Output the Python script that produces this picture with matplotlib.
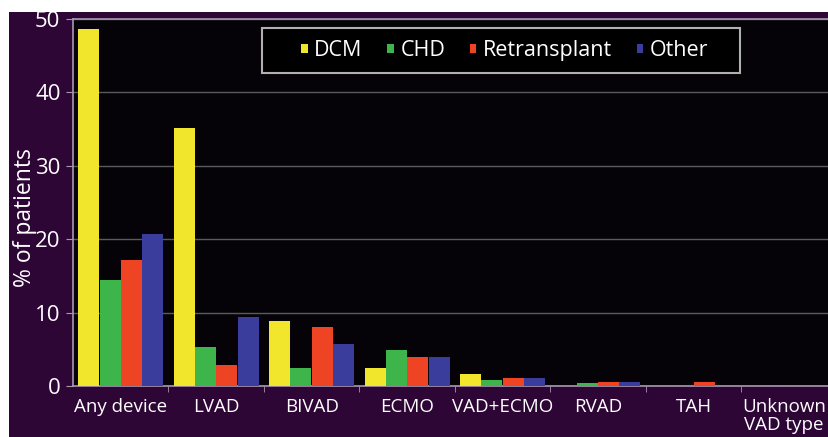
import matplotlib.pyplot as plt
import matplotlib.transforms as mtransforms
import numpy as np
from matplotlib.patches import Rectangle

plt.rcParams['font.family'] = ['Open Sans', 'DejaVu Sans']

# share of patients (%) on each type of mechanical support, by diagnosis
devices = ['Any device', 'LVAD', 'BIVAD', 'ECMO', 'VAD+ECMO', 'RVAD', 'TAH',
           'Unknown\nVAD type']
dcm = [48.7, 35.1, 8.85, 2.4, 1.6, 0.0, 0.0, 0.0]
chd = [14.5, 5.3, 2.45, 4.85, 0.75, 0.45, 0.0, 0.0]
retransplant = [17.1, 2.9, 8.0, 4.0, 1.15, 0.5, 0.5, 0.0]
other = [20.7, 9.35, 5.7, 4.0, 1.15, 0.5, 0.0, 0.0]

series = [('DCM', dcm, '#f2e62c'),
          ('CHD', chd, '#3db54a'),
          ('Retransplant', retransplant, '#ee4423'),
          ('Other', other, '#3a3d9c')]

panel = '#2e0636'
edge = '#a898b0'

fig = plt.figure(figsize=(8.29, 4.37), dpi=100, facecolor=panel)
# white margin along the top and left edges
fig.patches.append(Rectangle((0, 425 / 437), 1, 12 / 437, transform=fig.transFigure,
                             facecolor='white', edgecolor='none', zorder=-1))
fig.patches.append(Rectangle((0, 0), 9 / 829, 1, transform=fig.transFigure,
                             facecolor='white', edgecolor='none', zorder=-1))

ax = fig.add_axes([73 / 829, 51 / 437, 756 / 829, 367 / 437])
ax.set_facecolor('#050308')

x = np.arange(len(devices))
offsets = [-0.335, -0.112, 0.112, 0.335]
for (name, vals, col), off in zip(series, offsets):
    ax.bar(x + off, vals, width=0.22, color=col, label=name, zorder=3)

ax.set_xlim(-0.5, 7.42)
ax.set_ylim(0, 50)
ax.set_yticks([0, 10, 20, 30, 40, 50])
ax.yaxis.grid(True, color='#5a5a5a', linewidth=1, zorder=1)

ax.set_xticks(x)
ax.set_xticklabels(devices, color='white', fontsize=13.5, linespacing=1.0)
ax.set_xticks(np.arange(0.5, 7, 1), minor=True)
ax.tick_params(axis='x', which='major', length=0, pad=9)
ax.tick_params(axis='x', which='minor', length=4, color=edge, direction='out')
ax.tick_params(axis='y', length=5, color=edge, labelcolor='white', labelsize=16, pad=4)

# last label sits against the right edge, nudge it inwards
last = ax.get_xticklabels()[-1]
last.set_transform(last.get_transform() +
                   mtransforms.ScaledTranslation(-5 / 100, 0, fig.dpi_scale_trans))

for s in ['left', 'bottom', 'top']:
    ax.spines[s].set_color(edge)
    ax.spines[s].set_linewidth(1.2)
ax.spines['right'].set_visible(False)

ax.set_ylabel('% of patients', color='white', fontsize=16.5)
ax.yaxis.set_label_coords(-0.047, 0.46)

# legend box, then the entries inside it
ax.add_patch(Rectangle((0.25, 0.853), 0.632, 0.1225, transform=ax.transAxes,
                       facecolor='black', edgecolor='#b0b0b0', linewidth=1.5,
                       zorder=4))
leg = ax.legend(ncol=4, loc='center left', bbox_to_anchor=(0.302, 0.914),
                borderaxespad=0, borderpad=0, frameon=False, fontsize=15.5,
                handlelength=0.3, handleheight=0.3, handletextpad=0.3,
                columnspacing=1.15, labelcolor='white')
leg.set_zorder(5)

fig.savefig('out.png', dpi=100, facecolor=fig.get_facecolor())
